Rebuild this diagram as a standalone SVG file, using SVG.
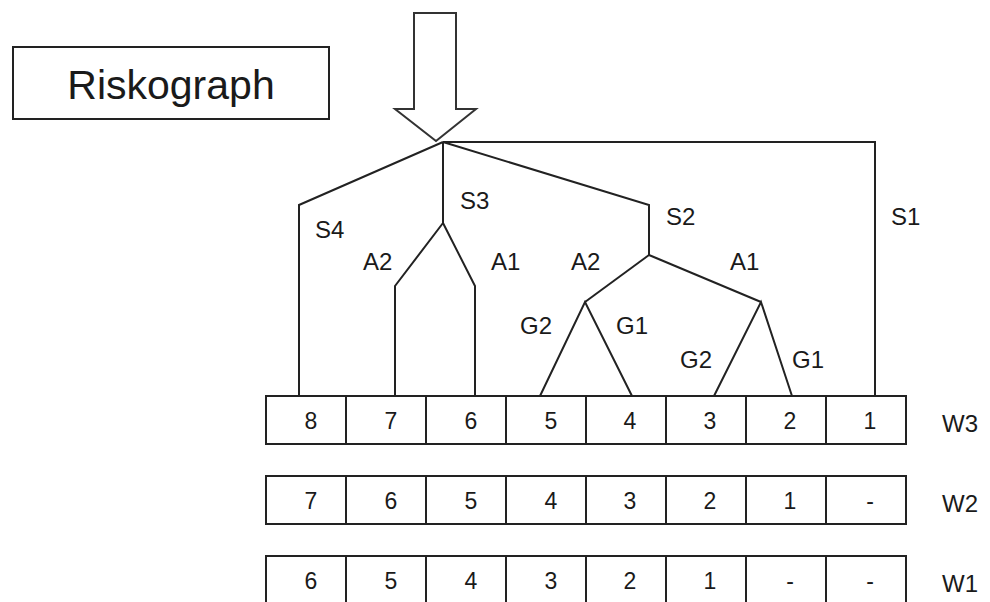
<svg xmlns="http://www.w3.org/2000/svg" width="990" height="602" viewBox="0 0 990 602">
  <style>
    .ln { fill: none; stroke: #222; stroke-width: 2; stroke-linejoin: miter; }
    .cell { fill: #fff; stroke: #222; stroke-width: 2; }
    .lbl { font-family: "Liberation Sans", Arial, sans-serif; font-size: 24px; fill: #1a1a1a; }
    .num { font-family: "Liberation Sans", Arial, sans-serif; font-size: 23px; fill: #1a1a1a; text-anchor: middle; }
  </style>
  <rect width="990" height="602" fill="#fff"/>

  <!-- title box -->
  <g id="title">
    <rect x="13" y="47" width="316" height="72" class="cell"/>
    <text x="171" y="99" text-anchor="middle" style="font-family: 'Liberation Sans', Arial, sans-serif; font-size: 41px; fill: #1a1a1a;">Riskograph</text>
  </g>

  <!-- entry arrow -->
  <g id="entry-arrow">
    <polygon points="414,13 456,13 456,109 476,109 436,141 395,109 414,109" fill="#fff" stroke="#333" stroke-width="2" stroke-linejoin="miter"/>
  </g>

  <!-- decision tree branches -->
  <g id="connectors">
    <polyline class="ln" points="443,142 875,142 875,396"/>
    <polyline class="ln" points="443,142 299,205 299,396"/>
    <polyline class="ln" points="443,142 443,223"/>
    <polyline class="ln" points="443,223 395,286 395,396"/>
    <polyline class="ln" points="443,223 475,286 475,396"/>
    <polyline class="ln" points="443,142 649,205 649,255"/>
    <polyline class="ln" points="649,255 585,302"/>
    <polyline class="ln" points="649,255 761,302"/>
    <polyline class="ln" points="540,396 585,302 632,396"/>
    <polyline class="ln" points="714,396 761,302 792,396"/>
  </g>

  <!-- branch labels -->
  <g id="labels">
    <text class="lbl" x="315" y="238">S4</text>
    <text class="lbl" x="460" y="209">S3</text>
    <text class="lbl" x="666" y="225">S2</text>
    <text class="lbl" x="891" y="225">S1</text>
    <text class="lbl" x="363" y="270">A2</text>
    <text class="lbl" x="491" y="270">A1</text>
    <text class="lbl" x="571" y="270">A2</text>
    <text class="lbl" x="730" y="270">A1</text>
    <text class="lbl" x="520" y="334">G2</text>
    <text class="lbl" x="616" y="334">G1</text>
    <text class="lbl" x="680" y="368">G2</text>
    <text class="lbl" x="792" y="368">G1</text>
  </g>

  <!-- W3 row -->
  <g id="row-w3">
    <rect class="cell" x="266" y="396" width="80" height="48"/>
    <rect class="cell" x="346" y="396" width="80" height="48"/>
    <rect class="cell" x="426" y="396" width="80" height="48"/>
    <rect class="cell" x="506" y="396" width="80" height="48"/>
    <rect class="cell" x="586" y="396" width="80" height="48"/>
    <rect class="cell" x="666" y="396" width="80" height="48"/>
    <rect class="cell" x="746" y="396" width="80" height="48"/>
    <rect class="cell" x="826" y="396" width="80" height="48"/>
    <text class="num" x="311" y="429">8</text>
    <text class="num" x="391" y="429">7</text>
    <text class="num" x="471" y="429">6</text>
    <text class="num" x="551" y="429">5</text>
    <text class="num" x="630" y="429">4</text>
    <text class="num" x="710" y="429">3</text>
    <text class="num" x="790" y="429">2</text>
    <text class="num" x="870" y="429">1</text>
    <text class="lbl" x="942" y="432">W3</text>
  </g>

  <!-- W2 row -->
  <g id="row-w2">
    <rect class="cell" x="266" y="476" width="80" height="48"/>
    <rect class="cell" x="346" y="476" width="80" height="48"/>
    <rect class="cell" x="426" y="476" width="80" height="48"/>
    <rect class="cell" x="506" y="476" width="80" height="48"/>
    <rect class="cell" x="586" y="476" width="80" height="48"/>
    <rect class="cell" x="666" y="476" width="80" height="48"/>
    <rect class="cell" x="746" y="476" width="80" height="48"/>
    <rect class="cell" x="826" y="476" width="80" height="48"/>
    <text class="num" x="311" y="509">7</text>
    <text class="num" x="391" y="509">6</text>
    <text class="num" x="471" y="509">5</text>
    <text class="num" x="551" y="509">4</text>
    <text class="num" x="630" y="509">3</text>
    <text class="num" x="710" y="509">2</text>
    <text class="num" x="790" y="509">1</text>
    <text class="num" x="870" y="509">-</text>
    <text class="lbl" x="942" y="512">W2</text>
  </g>

  <!-- W1 row -->
  <g id="row-w1">
    <rect class="cell" x="266" y="556" width="80" height="50"/>
    <rect class="cell" x="346" y="556" width="80" height="50"/>
    <rect class="cell" x="426" y="556" width="80" height="50"/>
    <rect class="cell" x="506" y="556" width="80" height="50"/>
    <rect class="cell" x="586" y="556" width="80" height="50"/>
    <rect class="cell" x="666" y="556" width="80" height="50"/>
    <rect class="cell" x="746" y="556" width="80" height="50"/>
    <rect class="cell" x="826" y="556" width="80" height="50"/>
    <text class="num" x="311" y="589">6</text>
    <text class="num" x="391" y="589">5</text>
    <text class="num" x="471" y="589">4</text>
    <text class="num" x="551" y="589">3</text>
    <text class="num" x="630" y="589">2</text>
    <text class="num" x="710" y="589">1</text>
    <text class="num" x="790" y="589">-</text>
    <text class="num" x="870" y="589">-</text>
    <text class="lbl" x="942" y="592">W1</text>
  </g>
</svg>
